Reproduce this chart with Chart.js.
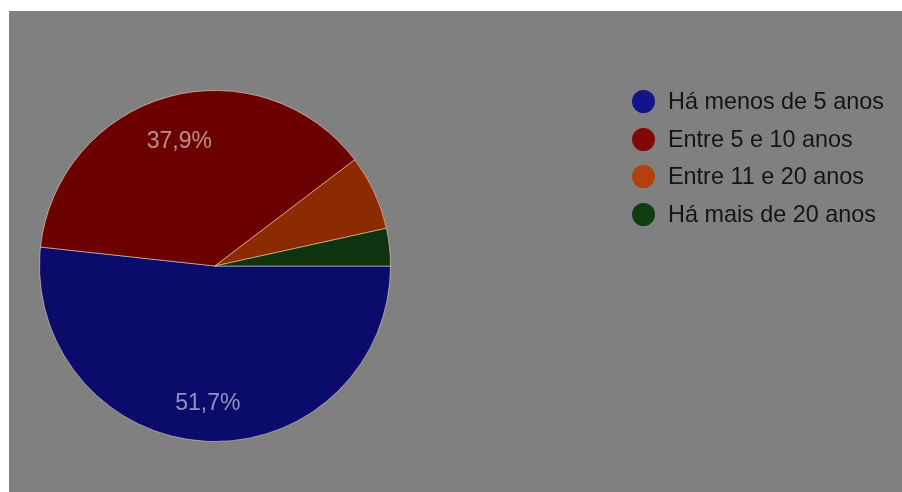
<!DOCTYPE html>
<html lang="pt">
<head>
<meta charset="utf-8">
<script src="https://cdn.jsdelivr.net/npm/chart.js@4"></script>
<style>
  html, body { margin: 0; padding: 0; background: #ffffff; }
  body { width: 902px; height: 492px; position: relative; overflow: hidden; }
  #panel { position: absolute; left: 9px; top: 11px; width: 893px; height: 481px; background: #808080; filter: blur(0.4px); }
  #chartBox { position: absolute; left: 0; top: 0; width: 893px; height: 481px; }
  #legend { position: absolute; left: 623px; top: 77px; margin: 0; padding: 0; list-style: none;
            font-family: "Liberation Sans", Arial, sans-serif; font-size: 23.4px; color: #141414; }
  #legend li { height: 37.5px; line-height: 27px; display: flex; align-items: flex-start; white-space: nowrap; }
  #legend .dot { display: inline-block; width: 23px; height: 23px; border-radius: 50%; margin-right: 13px; margin-top: 2px; }
</style>
</head>
<body>
<div id="panel">
  <div id="chartBox"><canvas id="c"></canvas></div>
  <ul id="legend"></ul>
</div>
<script>
// Há quanto tempo: respostas por faixa (29 respostas)
const categories = ['Há menos de 5 anos', 'Entre 5 e 10 anos', 'Entre 11 e 20 anos', 'Há mais de 20 anos'];
const responses = [15, 11, 2, 1];
const sliceColors = ['#0b0b6c', '#6c0101', '#8c2a02', '#0e330e'];
const legendColors = ['#14148a', '#820808', '#b2410e', '#0f3d0f'];

const total = responses.reduce((a, b) => a + b, 0);
const pctText = v => (v / total * 100).toFixed(1).replace('.', ',') + '%';

// Percentage labels inside the larger slices
const sliceLabels = {
  id: 'sliceLabels',
  afterDatasetsDraw(chart) {
    const ctx = chart.ctx;
    const meta = chart.getDatasetMeta(0);
    ctx.save();
    ctx.font = '23px "Liberation Sans", Arial, sans-serif';
    ctx.textAlign = 'center';
    ctx.textBaseline = 'middle';
    ctx.fillStyle = 'rgba(255,255,255,0.55)';
    meta.data.forEach((arc, i) => {
      const v = responses[i];
      if (v / total < 0.1) return;
      const p = arc.getProps(['x', 'y', 'startAngle', 'endAngle', 'outerRadius'], true);
      const mid = (p.startAngle + p.endAngle) / 2;
      const r = p.outerRadius * 0.76;
      ctx.fillText(pctText(v), p.x + Math.cos(mid) * r, p.y + Math.sin(mid) * r + 4);
    });
    ctx.restore();
  }
};

new Chart(document.getElementById('c'), {
  type: 'pie',
  data: {
    labels: categories,
    datasets: [{
      data: responses,
      backgroundColor: sliceColors,
      borderColor: 'rgba(255,235,200,0.5)',
      borderWidth: 1
    }]
  },
  options: {
    responsive: true,
    maintainAspectRatio: false,
    animation: false,
    rotation: 90,
    layout: { padding: { left: 30, right: 511, top: 79, bottom: 50 } },
    plugins: {
      legend: { display: false },
      tooltip: { enabled: false }
    }
  },
  plugins: [sliceLabels]
});

// Legend list
const legend = document.getElementById('legend');
categories.forEach((name, i) => {
  const li = document.createElement('li');
  const dot = document.createElement('span');
  dot.className = 'dot';
  dot.style.background = legendColors[i];
  li.appendChild(dot);
  li.appendChild(document.createTextNode(name));
  legend.appendChild(li);
});
</script>
</body>
</html>
